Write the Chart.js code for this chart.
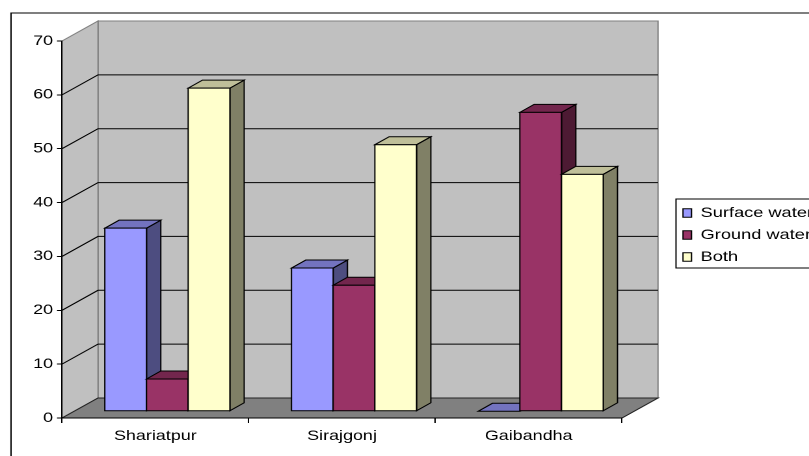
<!DOCTYPE html>
<html>
<head>
<meta charset="utf-8">
<script src="https://cdn.jsdelivr.net/npm/chart.js@4.4.1/dist/chart.umd.min.js"></script>
<style>
  html, body { margin: 0; padding: 0; background: #fff; overflow: hidden; }
  canvas { display: block; }
</style>
</head>
<body>
<canvas id="chart" width="622" height="456" style="width:809px;height:456px"></canvas>
<script>
// ---- data -------------------------------------------------------------
const categories   = ['Shariatpur', 'Sirajgonj', 'Gaibandha'];
const seriesNames  = ['Surface water', 'Ground water', 'Both'];
const surfaceWater = [34, 26.6, 0];
const groundWater  = [6, 23.4, 55.5];
const bothSources  = [60, 49.5, 44];
const yTickValues  = [0, 10, 20, 30, 40, 50, 60, 70];

// ---- styles -----------------------------------------------------------
const frontColors = ['#9999FF', '#993366', '#FFFFCC'];
const topColors   = ['#7373BF', '#73264D', '#BFBF99'];
const sideColors  = ['#4D4D80', '#4D1A33', '#808066'];
const WALL = '#C0C0C0', FLOOR = '#808080', WALL_EDGE = '#808080';
const FONT = "'Liberation Sans', Arial, sans-serif";

// canvas is drawn narrow and widened by CSS (809 / 622)
const SX = 809 / 622;
const u = v => v / SX;              // horizontal page px -> canvas units

const PLOT = { left: u(62), right: u(622), top: 41, bottom: 418 };
const WALL_DX = u(36), WALL_DY = 20;     // depth of the back wall
const BAR_OX = u(12),  BAR_OY = 6.7;     // columns sit a third of the way in
const BAR_DX = u(14.3), BAR_DY = 8;      // column thickness
const FRAME = { x: u(11), y: 13 };
const LEGEND_BOX = { x: u(676), y: 199, w: 300, h: 69 };
const LEGEND_PAD = 8;
const LEGEND_FONT = 14;

function poly(ctx, pts, fill, stroke) {
  ctx.beginPath();
  ctx.moveTo(pts[0][0], pts[0][1]);
  for (let i = 1; i < pts.length; i++) ctx.lineTo(pts[i][0], pts[i][1]);
  ctx.closePath();
  if (fill) { ctx.fillStyle = fill; ctx.fill(); }
  if (stroke) { ctx.strokeStyle = stroke; ctx.stroke(); }
}

const boxes3d = {
  id: 'boxes3d',
  afterLayout(chart) {
    // legend sits in its own framed box to the right of the walls
    const lg = chart.legend;
    lg.left = LEGEND_BOX.x + u(683 - 676) - LEGEND_PAD;
    lg.top = 213 - LEGEND_FONT / 2 - LEGEND_PAD;
    lg.width = 300; lg.height = 200;
    lg.right = lg.left + lg.width; lg.bottom = lg.top + lg.height;
  },
  beforeDraw(chart) {
    const { ctx, chartArea: a, scales: { y } } = chart;
    ctx.save();
    ctx.fillStyle = '#fff';
    ctx.fillRect(0, 0, chart.width, chart.height);
    ctx.lineWidth = 1;
    ctx.strokeStyle = '#000';
    ctx.strokeRect(FRAME.x, FRAME.y, chart.width + 40, chart.height + 40);

    // back wall, side wall and floor
    poly(ctx, [[a.left + WALL_DX, a.top - WALL_DY], [a.right + WALL_DX, a.top - WALL_DY],
               [a.right + WALL_DX, a.bottom - WALL_DY], [a.left + WALL_DX, a.bottom - WALL_DY]], WALL, WALL_EDGE);
    poly(ctx, [[a.left, a.top], [a.left + WALL_DX, a.top - WALL_DY],
               [a.left + WALL_DX, a.bottom - WALL_DY], [a.left, a.bottom]], WALL, WALL_EDGE);

    // gridlines along side and back wall
    ctx.strokeStyle = '#000';
    y.ticks.forEach(t => {
      if (t.value <= y.min || t.value >= y.max) return;
      const py = y.getPixelForValue(t.value);
      ctx.beginPath();
      ctx.moveTo(a.left, py);
      ctx.lineTo(a.left + WALL_DX, py - WALL_DY);
      ctx.lineTo(a.right + WALL_DX, py - WALL_DY);
      ctx.stroke();
    });

    poly(ctx, [[a.left, a.bottom], [a.right, a.bottom],
               [a.right + WALL_DX, a.bottom - WALL_DY], [a.left + WALL_DX, a.bottom - WALL_DY]], FLOOR, '#222');
    ctx.restore();
  },
  beforeDatasetDraw() { return false; },
  afterDatasetsDraw(chart) {
    const ctx = chart.ctx;
    const metas = chart.getSortedVisibleDatasetMetas().slice().sort((p, q) => p.index - q.index);
    ctx.save();
    ctx.lineWidth = 1;
    ctx.lineJoin = 'miter';
    for (let i = 0; i < categories.length; i++) {
      metas.forEach(meta => {
        const el = meta.data[i];
        const { x, y, base, width } = el.getProps(['x', 'y', 'base', 'width'], true);
        const l = x - width / 2 + BAR_OX, r = x + width / 2 + BAR_OX;
        const t = y - BAR_OY, b = base - BAR_OY;
        const k = meta.index;
        poly(ctx, [[r, t], [r + BAR_DX, t - BAR_DY], [r + BAR_DX, b - BAR_DY], [r, b]], sideColors[k], '#000');
        poly(ctx, [[l, t], [l + BAR_DX, t - BAR_DY], [r + BAR_DX, t - BAR_DY], [r, t]], topColors[k], '#000');
        if (b - t > 0.5) poly(ctx, [[l, t], [r, t], [r, b], [l, b]], frontColors[k], '#000');
      });
    }
    ctx.restore();
  },
  afterDraw(chart) {
    const ctx = chart.ctx;
    ctx.save();
    ctx.strokeStyle = '#000';
    ctx.lineWidth = 1;
    ctx.strokeRect(LEGEND_BOX.x, LEGEND_BOX.y, LEGEND_BOX.w, LEGEND_BOX.h);
    ctx.restore();
  }
};

const seriesValues = [surfaceWater, groundWater, bothSources];

new Chart(document.getElementById('chart'), {
  type: 'bar',
  data: {
    labels: categories,
    datasets: seriesNames.map((name, k) => ({
      label: name,
      data: seriesValues[k],
      backgroundColor: frontColors[k],
      borderColor: '#000',
      borderWidth: 1,
      categoryPercentage: 0.67,
      barPercentage: 1
    }))
  },
  options: {
    responsive: false,
    animation: false,
    devicePixelRatio: 2,
    layout: { padding: { top: PLOT.top, right: 622 - PLOT.right, left: 0, bottom: 0 } },
    plugins: {
      title: { display: false },
      tooltip: { enabled: false },
      legend: {
        position: 'chartArea',
        align: 'start',
        labels: {
          color: '#000',
          font: { family: FONT, size: LEGEND_FONT },
          boxWidth: u(8.5),
          boxHeight: 8.5,
          padding: LEGEND_PAD
        }
      }
    },
    scales: {
      x: {
        offset: true,
        grid: { offset: true, drawOnChartArea: false, tickLength: 5, color: '#000', lineWidth: 1 },
        border: { display: true, color: '#000', width: 1 },
        ticks: { color: '#000', font: { family: FONT, size: 13.8 }, padding: 5, maxRotation: 0 },
        afterFit(s) { s.height = 456 - PLOT.bottom; }
      },
      y: {
        min: yTickValues[0],
        max: yTickValues[yTickValues.length - 1],
        afterBuildTicks(s) { s.ticks = yTickValues.map(v => ({ value: v })); },
        grid: { drawOnChartArea: false, tickLength: u(5), color: '#000', lineWidth: 1 },
        border: { display: true, color: '#000', width: 1 },
        ticks: { color: '#000', font: { family: FONT, size: 13.8 }, padding: 3 },
        afterFit(s) { s.width = PLOT.left; }
      }
    }
  },
  plugins: [boxes3d]
});
</script>
</body>
</html>
